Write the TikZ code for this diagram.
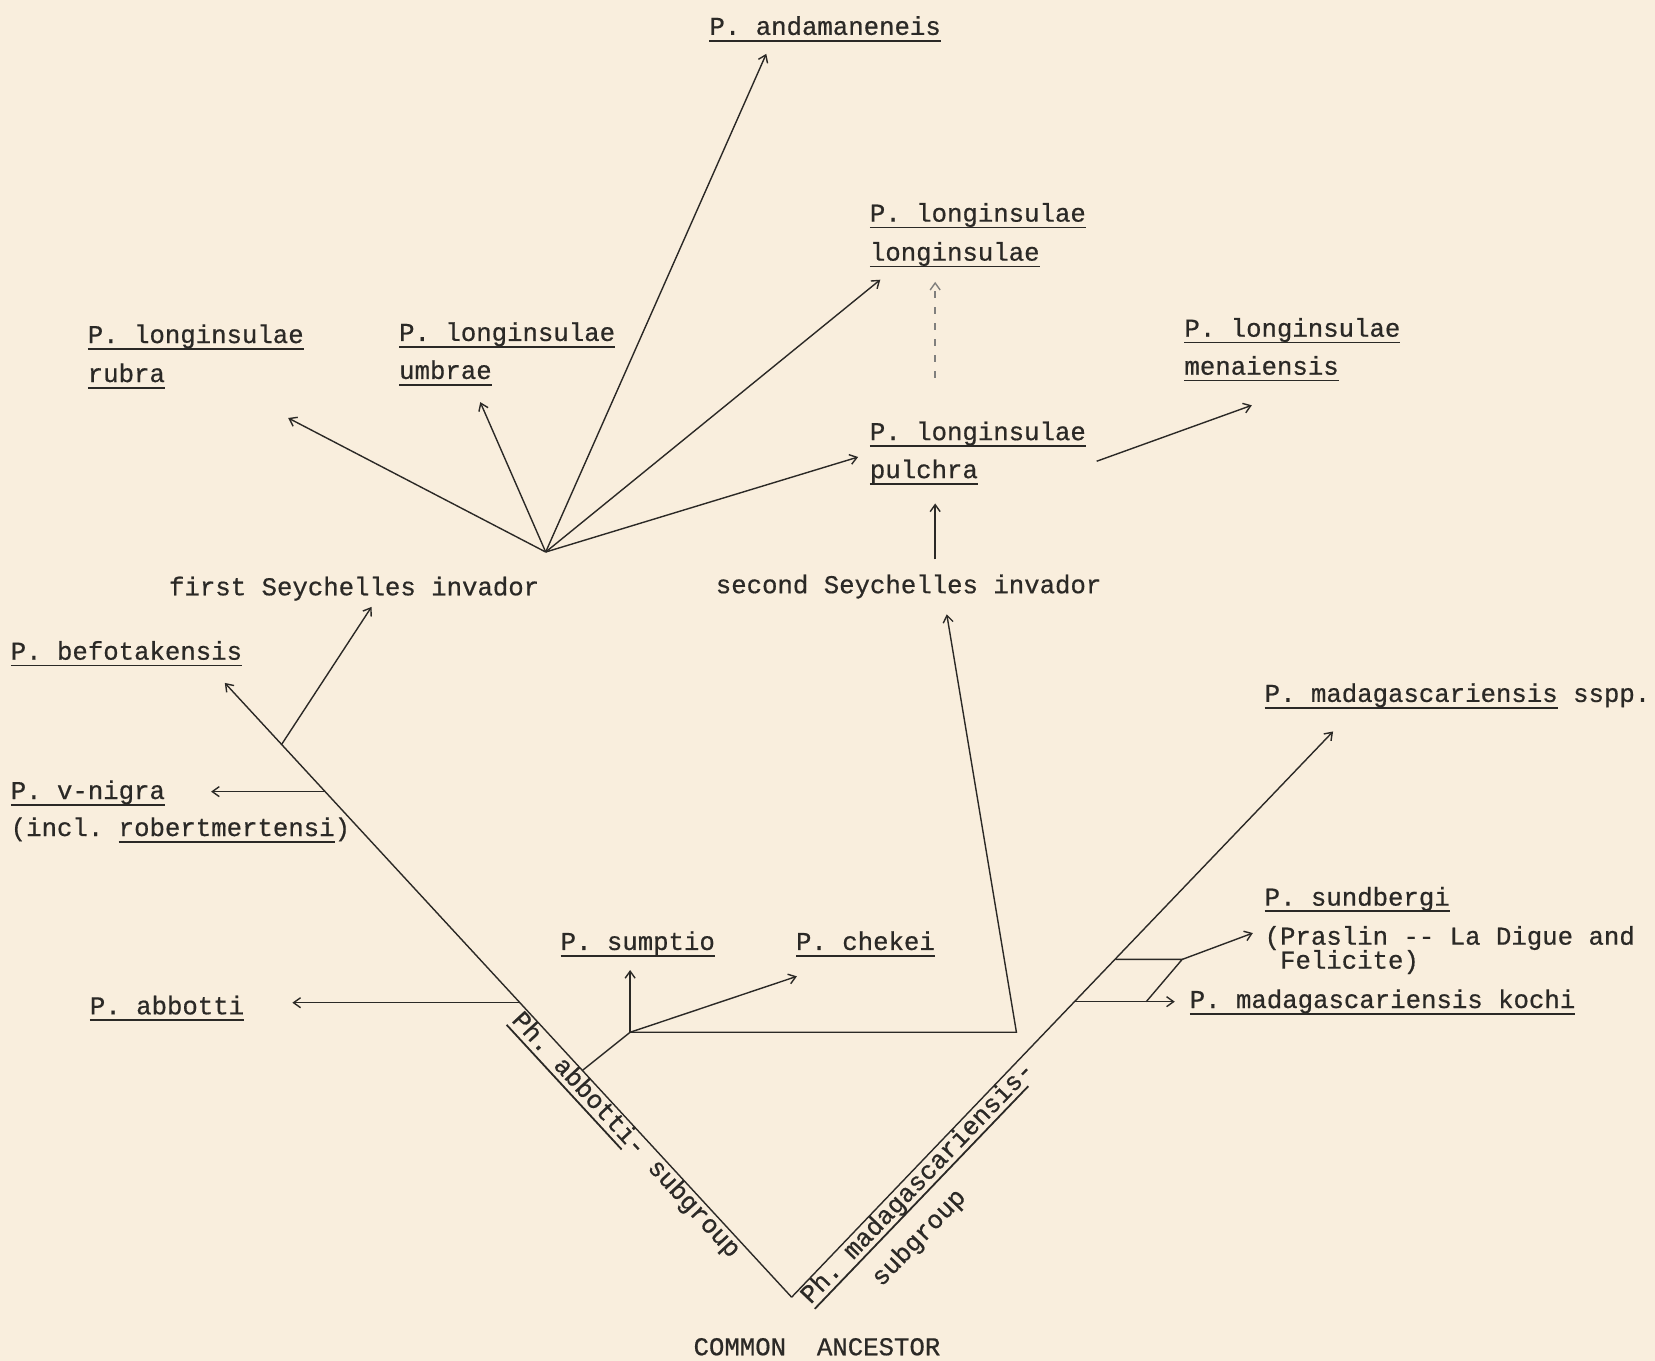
\documentclass[tikz,border=0pt]{standalone}
\usepackage{fontspec}
\setmonofont[FakeBold=0.6]{Liberation Mono}
\usetikzlibrary{arrows.meta}

\definecolor{paper}{HTML}{F9EEDD}
\definecolor{ink}{HTML}{2B2926}

\newsavebox\ulbox
\newcommand\uline[1]{\sbox\ulbox{#1}\rlap{\rule[-0.26em]{\wd\ulbox}{1.8pt}}\usebox\ulbox}

\begin{document}
\begin{tikzpicture}[
    x=1.0555pt, y=-1.0555pt,
    lbl/.style={anchor=base west, inner sep=0pt, text=ink, font=\ttfamily\frenchspacing\fontsize{25.7}{39}\selectfont},
    grp/.style={lbl, anchor=north west, align=left},
    ln/.style={draw=ink, line width=1.4pt},
    arr/.style={ln, -{Straight Barb[length=7pt,width=10pt]}}
]
\fill[paper] (0,0) rectangle (1568,1289);
\useasboundingbox (0,0) rectangle (1568,1289);

\node[lbl] (anda) at (672,33) {\uline{P. andamaneneis}};
\node[lbl] (lolo) at (824,210) {\uline{P. longinsulae}};
\node[lbl] (lolo2) at ([yshift=-39pt]lolo.base west) {\uline{longinsulae}};
\node[lbl] (rubr) at (83,325) {\uline{P. longinsulae}};
\node[lbl] (rubr2) at ([yshift=-39pt]rubr.base west) {\uline{rubra}};
\node[lbl] (umbr) at (378,323) {\uline{P. longinsulae}};
\node[lbl] (umbr2) at ([yshift=-38pt]umbr.base west) {\uline{umbrae}};
\node[lbl] (mena) at (1122,319) {\uline{P. longinsulae}};
\node[lbl] (mena2) at ([yshift=-38pt]mena.base west) {\uline{menaiensis}};
\node[lbl] (pulc) at (824,417) {\uline{P. longinsulae}};
\node[lbl] (pulc2) at ([yshift=-38pt]pulc.base west) {\uline{pulchra}};
\node[lbl] (inv1) at (160,564) {first Seychelles invador};
\node[lbl] (inv2) at (678,562) {second Seychelles invador};
\node[lbl] (befo) at (10,625) {\uline{P. befotakensis}};
\node[lbl] (vnig) at (10,757) {\uline{P. v-nigra}};
\node[lbl] (vnig2) at ([yshift=-37pt]vnig.base west) {(incl. \uline{robertmertensi})};
\node[lbl] (abbo) at (85,961) {\uline{P. abbotti}};
\node[lbl] (sump) at (531,900) {\uline{P. sumptio}};
\node[lbl] (chek) at (754,900) {\uline{P. chekei}};
\node[lbl] (mada) at (1198,665) {\uline{P. madagascariensis} sspp.};
\node[lbl] (sund) at (1198,858) {\uline{P. sundbergi}};
\node[lbl] (sund2) at (1198,895) {(Praslin -{}- La Digue and};
\node[lbl] (sund3) at ([xshift=15.4pt,yshift=-24pt]sund2.base west) {Felicite)};
\node[lbl] (koch) at (1127,955) {\uline{P. madagascariensis kochi}};
\node[lbl, anchor=base] (ance) at (774,1284) {COMMON\ \ ANCESTOR};
\node[grp, rotate=-47.3] (abgrp) at (497,955) {\uline{Ph. abbotti}- subgroup};
\node[grp, rotate=46.2] (magrp) at (755,1224) {\uline{Ph. madagascariensis}-\\\hspace*{2.4em}subgroup};

\coordinate (V) at (750,1229);
\coordinate (befoT) at (213,647);
\coordinate (madaT) at (1263,693);
\coordinate (inv1J) at (267,705);
\coordinate (inv1T) at (352,575);
\coordinate (vnigJ) at (308,750);
\coordinate (vnigT) at (200,750);
\coordinate (abboJ) at (493,950);
\coordinate (abboT) at (277,950);
\coordinate (sumpJ) at (552,1014);
\coordinate (fork) at (597,978);
\coordinate (sumpT) at (597,919);
\coordinate (chekT) at (755,925);
\coordinate (bend) at (963,978);
\coordinate (inv2T) at (897,582);
\coordinate (fan) at (517,523);
\coordinate (rubrT) at (273,396);
\coordinate (umbrT) at (455,381);
\coordinate (andaT) at (726,51);
\coordinate (loloT) at (834,265);
\coordinate (pulcT) at (813,433);
\coordinate (pulcF) at (886,530);
\coordinate (pulcU) at (886,477);
\coordinate (loloF) at (886,358);
\coordinate (loloU) at (886,267);
\coordinate (menaF) at (1039,437);
\coordinate (menaT) at (1186,384);
\coordinate (sundJ) at (1057,909);
\coordinate (sundK) at (1120,909);
\coordinate (sundT) at (1187,884);
\coordinate (kochJ) at (1018,949);
\coordinate (kochK) at (1086,949);
\coordinate (kochT) at (1113,949);

\draw[arr] (V) -- (befoT);
\draw[arr] (V) -- (madaT);
\draw[arr] (inv1J) -- (inv1T);
\draw[arr] (vnigJ) -- (vnigT);
\draw[arr] (abboJ) -- (abboT);
\draw[ln] (sumpJ) -- (fork);
\draw[arr] (fork) -- (sumpT);
\draw[arr] (fork) -- (chekT);
\draw[arr] (fork) -- (bend) -- (inv2T);
\draw[arr] (fan) -- (rubrT);
\draw[arr] (fan) -- (umbrT);
\draw[arr] (fan) -- (andaT);
\draw[arr] (fan) -- (loloT);
\draw[arr] (fan) -- (pulcT);
\draw[arr] (pulcF) -- (pulcU);
\draw[arr, draw=ink!60, dash pattern=on 7pt off 9pt] (loloF) -- (loloU);
\draw[arr] (menaF) -- (menaT);
\draw[ln] (sundJ) -- (sundK) -- (kochK);
\draw[arr] (sundK) -- (sundT);
\draw[arr] (kochJ) -- (kochT);
\end{tikzpicture}
\end{document}
